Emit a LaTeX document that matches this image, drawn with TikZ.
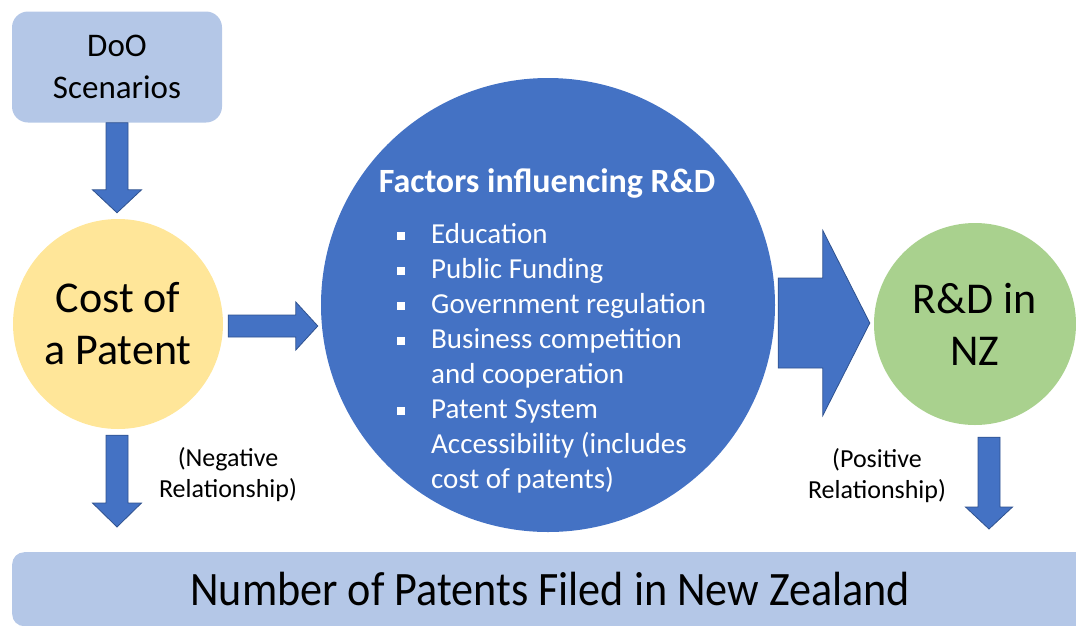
\documentclass[tikz,border=0pt]{standalone}
\usepackage{fontspec}
\setmainfont{Carlito}
\usetikzlibrary{calc}

\definecolor{dooblue}{HTML}{B4C7E7}
\definecolor{midblue}{HTML}{4472C4}
\definecolor{edgeblue}{HTML}{2F528F}
\definecolor{costyellow}{HTML}{FFE699}
\definecolor{rdgreen}{HTML}{A9D18E}

% square bullet and the matching indent
\newcommand{\bul}{\makebox[34pt][l]{\rule[3pt]{8pt}{8pt}}}
\newcommand{\nobul}{\hspace*{34pt}}

% block arrows: from, to, shaft half width, head half width, head length
\newcommand{\downblock}[5]{%
  \draw[blockarr] let \p1=(#1), \p2=(#2) in
    (\x1-#3pt,\y1) -- (\x1-#3pt,\y2+#5pt) -- (\x1-#4pt,\y2+#5pt) -- (\x1,\y2)
    -- (\x1+#4pt,\y2+#5pt) -- (\x1+#3pt,\y2+#5pt) -- (\x1+#3pt,\y1) -- cycle;}
\newcommand{\rightblock}[5]{%
  \draw[blockarr] let \p1=(#1), \p2=(#2) in
    (\x1,\y2-#3pt) -- (\x2-#5pt,\y2-#3pt) -- (\x2-#5pt,\y2-#4pt) -- (\x2,\y2)
    -- (\x2-#5pt,\y2+#4pt) -- (\x2-#5pt,\y2+#3pt) -- (\x1,\y2+#3pt) -- cycle;}

\begin{document}
\begin{tikzpicture}[x=1pt, y=-1pt,
  blockarr/.style={fill=midblue, draw=edgeblue, line width=.8pt},
  bubble/.style={circle, inner sep=0pt, align=center},
  note/.style={align=center, font=\fontsize{26}{31}\selectfont}]

\useasboundingbox (0,0) rectangle (1076,625);
\clip (0,0) rectangle (1076,625);

\node[fill=dooblue, rounded corners=16pt, minimum width=210pt, minimum height=111pt,
  align=center, font=\fontsize{33}{42}\selectfont] (doo) at (117,67) {DoO\\Scenarios};

\node[bubble, fill=costyellow, minimum size=210pt, font=\fontsize{44}{52}\selectfont]
  (cost) at (118,324) {Cost of\\a Patent};
\node[bubble, fill=midblue, minimum size=454pt] (fact) at (548,305) {};
\node[bubble, fill=rdgreen, minimum size=202pt, font=\fontsize{44}{52}\selectfont]
  (rd) at (975,324) {R\&D in\\NZ};

\node[fill=dooblue, rounded corners=12pt, minimum width=1076pt, minimum height=74pt,
  anchor=north west, font=\fontsize{48}{56}\selectfont] (num) at (12,552)
  {\scalebox{.92}[1]{Number of Patents Filed in New Zealand}};

% text inside the big circle
\node[white, anchor=base, font=\fontsize{34}{40}\selectfont\bfseries]
  (facttitle) at (547,192) {Factors influencing R\&D};
\node[white, anchor=north west, inner sep=0pt, align=left,
  font=\fontsize{29}{35}\selectfont] (factlist) at (397,223)
  {\bul Education\\
   \bul Public Funding\\
   \bul Government regulation\\
   \bul Business competition\\
   \nobul and cooperation\\
   \bul Patent System\\
   \nobul Accessibility (includes\\
   \nobul cost of patents)};

\node[note] (neg) at (228,475) {(Negative\\Relationship)};
\node[note] (pos) at (877,476) {(Positive\\Relationship)};

\downblock{doo.south}{$(cost.north)+(0,-6)$}{11}{24.5}{23}
\rightblock{$(cost.east)+(5,0)$}{$(cost.east -| fact.west)+(-3,2)$}{11}{24}{22}
\rightblock{$(fact.east)+(3,0)$}{$(rd.west)+(-4,-1)$}{45}{92.5}{47}
\downblock{$(cost.south)+(-1,6)$}{$(num.north -| cost.south)+(-1,-25)$}{11}{24.5}{24}
\downblock{$(rd.south)+(14,12)$}{$(num.north -| rd.south)+(14,-23)$}{11}{23.5}{22}

\end{tikzpicture}
\end{document}
